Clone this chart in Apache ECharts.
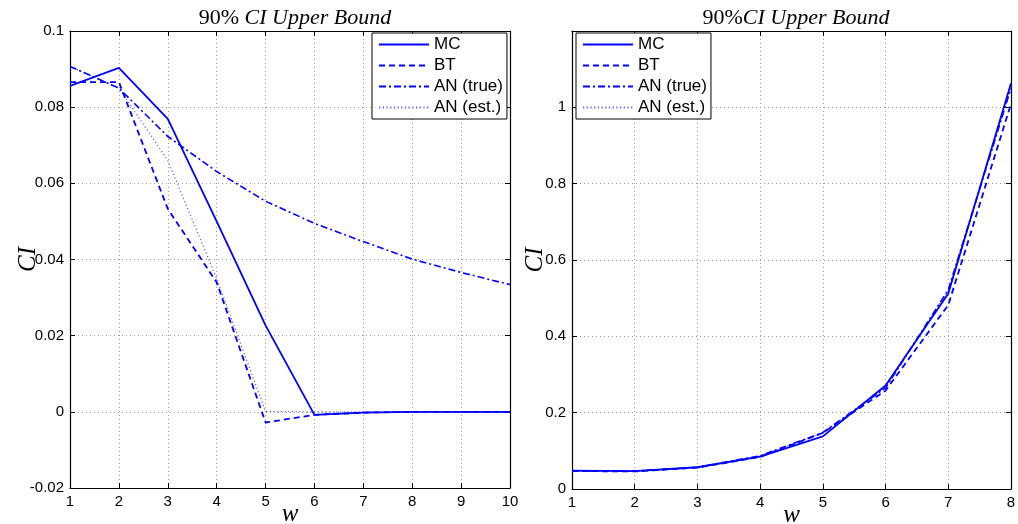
<!DOCTYPE html>
<html>
<head>
<meta charset="utf-8">
<script src="https://cdn.jsdelivr.net/npm/echarts@6/dist/echarts.min.js"></script>
<style>html,body{margin:0;padding:0;background:#fff}#c{width:1018px;height:524px}</style>
</head>
<body>
<div id="c"></div>
<script>
// Left panel: w = 1..10
const wLeft = [1, 2, 3, 4, 5, 6, 7, 8, 9, 10];
const mcLeft = [0.0856, 0.0903, 0.0769, 0.0500, 0.0227, -0.0008, -0.0002, 0, 0, 0];
const btLeft = [0.0866, 0.0866, 0.0533, 0.0340, -0.0028, -0.0008, -0.0002, 0, 0, 0];
const anTrueLeft = [0.0907, 0.0850, 0.0723, 0.0631, 0.0553, 0.0495, 0.0447, 0.0401, 0.0366, 0.0334];
const anEstLeft = [0.0907, 0.0850, 0.0660, 0.0350, 0.0001, 0, 0, 0, 0, 0];
// Right panel: w = 1..8
const wRight = [1, 2, 3, 4, 5, 6, 7, 8];
const mcRight = [0.048, 0.047, 0.057, 0.085, 0.138, 0.271, 0.512, 1.063];
const btRight = [0.047, 0.046, 0.056, 0.084, 0.147, 0.258, 0.482, 1.009];
const anTrueRight = [0.047, 0.047, 0.057, 0.087, 0.148, 0.265, 0.522, 1.050];
const anEstRight = [0.047, 0.047, 0.057, 0.087, 0.146, 0.266, 0.520, 1.052];
const seriesNames = ['MC', 'BT', 'AN (true)', 'AN (est.)'];

const pairs = (xs, ys) => xs.map((x, i) => [x, ys[i]]);
const BLUE = '#0000ff';
const styles = [
  { type: 'solid', width: 1.8, color: BLUE },
  { type: [6, 4], width: 1.8, color: BLUE },
  { type: [7, 3, 2, 3], width: 1.6, color: BLUE },
  { type: [1.2, 2.5], width: 1.2, color: '#5a5aff' }
];

const tickFont = { fontFamily: 'Liberation Sans', fontSize: 15, color: '#000' };
const nameFont = { fontFamily: 'Liberation Serif', fontStyle: 'italic', fontSize: 25, color: '#000' };
const splitDot = { show: true, lineStyle: { color: '#9a9a9a', type: [1, 3], width: 1 } };

function xAx(gi, max) {
  return [{
    type: 'value', gridIndex: gi, min: 1, max: max, interval: 1, position: 'bottom',
    name: 'w', nameLocation: 'middle', nameGap: 14, nameMoveOverlap: false, nameTextStyle: nameFont,
    axisLine: { show: true, onZero: false, lineStyle: { color: '#000', width: 1.2 } },
    axisTick: { show: true, inside: true, length: 5, lineStyle: { color: '#000' } },
    axisLabel: Object.assign({ margin: 6 }, tickFont),
    splitLine: splitDot
  }, {
    type: 'value', gridIndex: gi, min: 1, max: max, interval: 1, position: 'top',
    axisLine: { show: true, onZero: false, lineStyle: { color: '#000', width: 1.2 } },
    axisTick: { show: true, inside: true, length: 5, lineStyle: { color: '#000' } },
    axisLabel: { show: false }, splitLine: { show: false }
  }];
}
function yAx(gi, min, max, interval, gap, hideMax) {
  return [{
    type: 'value', gridIndex: gi, min: min, max: max, interval: interval, position: 'left',
    name: 'CI', nameLocation: 'middle', nameGap: gap, nameMoveOverlap: false, nameTextStyle: nameFont,
    axisLine: { show: true, onZero: false, lineStyle: { color: '#000', width: 1.2 } },
    axisTick: { show: true, inside: true, length: 5, lineStyle: { color: '#000' } },
    axisLabel: Object.assign({
      margin: 6,
      formatter: v => (hideMax && Math.abs(v - max) < 1e-9) ? '' : String(+v.toFixed(4))
    }, tickFont),
    splitLine: splitDot
  }, {
    type: 'value', gridIndex: gi, min: min, max: max, interval: interval, position: 'right',
    axisLine: { show: true, onZero: false, lineStyle: { color: '#000', width: 1.2 } },
    axisTick: { show: true, inside: true, length: 5, lineStyle: { color: '#000' } },
    axisLabel: { show: false }, splitLine: { show: false }
  }];
}

const leftData = [mcLeft, btLeft, anTrueLeft, anEstLeft];
const rightData = [mcRight, btRight, anTrueRight, anEstRight];
const series = [];
seriesNames.forEach((n, i) => {
  series.push({ name: n, type: 'line', xAxisIndex: 0, yAxisIndex: 0, data: pairs(wLeft, leftData[i]),
    symbol: 'none', lineStyle: styles[i], itemStyle: { color: styles[i].color }, z: 10 - i, animation: false });
});
seriesNames.forEach((n, i) => {
  series.push({ name: n, type: 'line', xAxisIndex: 2, yAxisIndex: 2, data: pairs(wRight, rightData[i]),
    symbol: 'none', lineStyle: styles[i], itemStyle: { color: styles[i].color }, z: 10 - i, animation: false });
});

const titleRich = {
  a: { fontFamily: 'Liberation Serif', fontWeight: 'normal', fontSize: 22, color: '#000' },
  b: { fontFamily: 'Liberation Serif', fontStyle: 'italic', fontWeight: 'normal', fontSize: 22, color: '#000' }
};
function legend(left) {
  return {
    orient: 'vertical', left: left, top: 33, data: seriesNames,
    backgroundColor: '#fff', borderColor: '#000', borderWidth: 1, borderRadius: 0,
    padding: [3, 4, 3, 6], itemGap: 4, itemWidth: 50, itemHeight: 16,
    itemStyle: { opacity: 0 },
    textStyle: { fontFamily: 'Liberation Sans', fontSize: 17, color: '#000' },
    selectedMode: false
  };
}

const chart = echarts.init(document.getElementById('c'), null, { renderer: 'canvas' });
chart.setOption({
  animation: false,
  backgroundColor: '#fff',
  title: [
    { text: '{a|90% }{b|CI Upper Bound}', left: 290, top: 2, textAlign: 'center', textStyle: { fontWeight: 'normal', rich: titleRich } },
    { text: '{a|90%}{b|CI Upper Bound}', left: 791, top: 2, textAlign: 'center', textStyle: { fontWeight: 'normal', rich: titleRich } }
  ],
  legend: [legend(372), legend(576)],
  grid: [
    { left: 70, right: 508, top: 31, bottom: 36, show: false, outerBoundsMode: 'none', containLabel: false },
    { left: 572, right: 7, top: 31, bottom: 35, show: false, outerBoundsMode: 'none', containLabel: false }
  ],
  xAxis: [...xAx(0, 10), ...xAx(1, 8)],
  yAxis: [...yAx(0, -0.02, 0.1, 0.02, 29, false), ...yAx(1, 0, 1.2, 0.2, 24, true)],
  series: series
});
</script>
</body>
</html>
